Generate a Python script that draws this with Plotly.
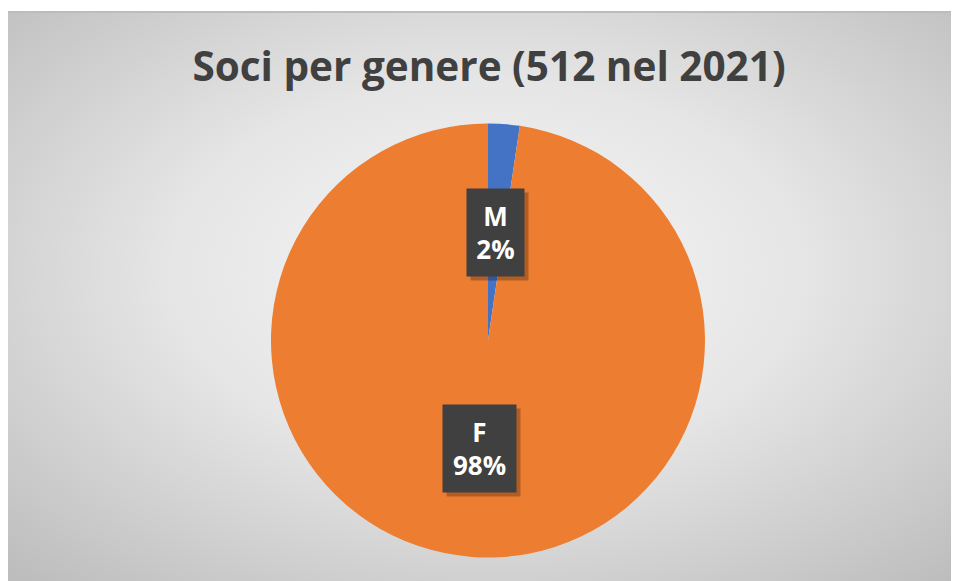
import math
import base64
import plotly.graph_objects as go

# data
labels = ["M", "F"]
values = [12, 500]
colors = ["#4472C4", "#ED7D31"]
title = "Soci per genere (512 nel 2021)"

W, H = 959, 581
total = sum(values)
pcts = [f"{round(v / total * 100)}%" for v in values]

# pie placement (paper fractions)
dom_x = [0.2742, 0.7268]
dom_y = [0.0542, 0.8012]

fig = go.Figure()
fig.add_trace(go.Pie(
    labels=labels,
    values=values,
    sort=False,
    direction="clockwise",
    rotation=0,
    marker=dict(colors=colors, line=dict(width=0)),
    textinfo="none",
    hoverinfo="label+percent",
    showlegend=False,
    domain=dict(x=dom_x, y=dom_y),
))

# background gradient as an svg image
svg = (
    '<svg xmlns="http://www.w3.org/2000/svg" width="959" height="578" viewBox="0 0 959 578" preserveAspectRatio="none">'
    '<defs><radialGradient id="g" cx="0.5" cy="0.45" r="0.72">'
    '<stop offset="0" stop-color="#f6f6f6"/>'
    '<stop offset="0.45" stop-color="#e6e6e6"/>'
    '<stop offset="1" stop-color="#bdbdbd"/>'
    '</radialGradient></defs>'
    '<rect width="959" height="578" fill="url(#g)"/>'
    '<rect x="0" y="0" width="959" height="2" fill="#bcbcbc"/>'
    '</svg>'
)
src = "data:image/svg+xml;base64," + base64.b64encode(svg.encode()).decode()

# label boxes placed at slice mid-angles
cx = (dom_x[0] + dom_x[1]) / 2 * W
cy = (1 - (dom_y[0] + dom_y[1]) / 2) * H
rad = (dom_y[1] - dom_y[0]) * H / 2
label_r = 0.5
box_w = [57, 73]

annotations = []
cum = 0
for i, v in enumerate(values):
    mid = (cum + v / 2) / total * 2 * math.pi
    cum += v
    px_ = cx + rad * label_r * math.sin(mid)
    py_ = cy - rad * label_r * math.cos(mid)
    # shadow
    annotations.append(dict(
        x=(px_ + 4) / W, y=1 - (py_ + 4) / H, xref="paper", yref="paper",
        xanchor="center", yanchor="middle",
        text=" ", showarrow=False, width=box_w[i], height=87,
        bgcolor="rgba(0,0,0,0.25)", borderpad=0,
    ))
    annotations.append(dict(
        x=px_ / W, y=1 - py_ / H, xref="paper", yref="paper",
        xanchor="center", yanchor="middle",
        text=f"<b>{labels[i]}</b><br><b>{pcts[i]}</b>",
        showarrow=False, width=box_w[i], height=87,
        bgcolor="#404040", borderpad=0,
        font=dict(family="Open Sans, sans-serif", size=26, color="white"),
    ))

fig.update_layout(
    width=W, height=H,
    margin=dict(l=0, r=0, t=0, b=0),
    paper_bgcolor="white",
    plot_bgcolor="rgba(0,0,0,0)",
    images=[dict(
        source=src, xref="paper", yref="paper",
        x=0, y=1 - 3 / H, sizex=1, sizey=1 - 3 / H,
        xanchor="left", yanchor="top", sizing="stretch", layer="below",
    )],
    title=dict(
        text=f"<b>{title}</b>",
        x=481 / W, xanchor="center",
        y=1 - 59 / H, yanchor="middle",
        font=dict(family="Open Sans, sans-serif", size=40.5, color="#404040"),
    ),
    annotations=annotations,
)

fig.write_html("out.html")
